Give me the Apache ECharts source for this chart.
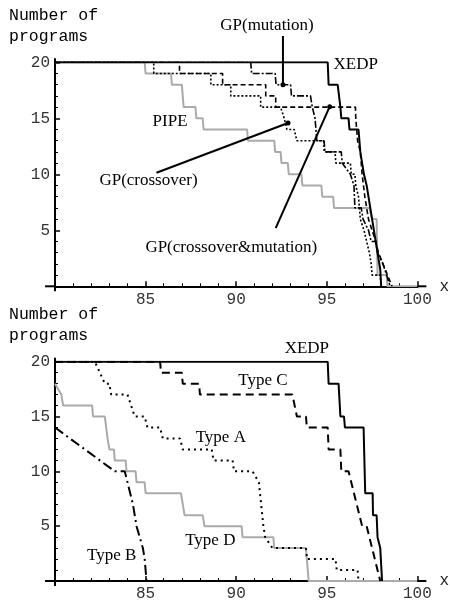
<!DOCTYPE html>
<html><head><meta charset="utf-8">
<script src="https://cdn.jsdelivr.net/npm/echarts@6/dist/echarts.min.js"></script>
<style>html,body{margin:0;padding:0;background:#fff}#c{width:450px;height:602px}</style>
</head><body><div id="c"></div><script>
// ---------- data (x = score, y = number of programs) ----------
const xTickValues = [85, 90, 95, 100];
const yTickValues = [5, 10, 15, 20];

const topXEDP = [[80,20],[95.05,20],[95.1,18],[95.6,18],[95.75,16],[95.8,15],[96.2,15],[96.25,14],[96.75,14],[96.85,12],[97.05,10],[97.2,9],[97.4,7],[97.6,5],[97.75,3.5],[97.95,1.5],[98.0,0]];
const topPIPE = [[80,20],[84.95,20],[85.0,19],[86.4,19],[86.45,18],[87.0,18],[87.1,16],[87.75,16],[87.8,15],[88.15,15],[88.2,14],[90.6,14],[90.65,13],[92.1,13],[92.15,12],[92.45,12],[92.5,11],[92.85,11],[92.9,10],[93.6,10],[93.65,9],[94.7,9],[94.75,8],[95.35,8],[95.4,7],[97.35,7],[97.5,6],[97.75,6],[97.8,1],[98.3,1],[98.35,0],[100,0]];
const topGPmutation = [[80,20],[90.8,20],[90.85,19],[92.15,19],[92.2,18],[93.0,18],[93.05,17],[94.1,17],[94.2,16],[94.35,15],[94.45,13],[94.85,13],[94.9,12],[95.8,12],[95.85,11],[96.3,10],[96.5,9],[96.55,7],[96.9,7],[97.0,6],[97.3,5],[97.45,4],[97.7,4],[97.8,3],[98.1,2],[98.3,1],[98.5,0]];
const topGPcrossover = [[80,20],[85.45,20],[85.45,19],[88.6,19],[88.6,18],[89.7,18],[89.7,17],[91.35,17],[91.35,16],[92.45,16],[92.65,15],[92.8,14],[93.2,14],[93.35,13],[94.85,13],[94.85,12],[95.45,12],[95.5,11],[96.3,11],[96.35,10],[96.55,10],[96.6,9],[96.75,8],[96.85,6],[97.05,5],[97.2,4],[97.35,3],[97.45,2],[97.5,1],[97.95,1],[98.0,0]];
const topGPcrossMut = [[80,20],[86.87,20],[86.87,19],[89.25,19],[89.25,18],[91.63,18],[91.63,17],[92.18,17],[92.18,16],[96.58,16],[96.6,15],[96.7,13],[96.85,12],[96.95,10],[97.1,8],[97.3,6],[97.5,5],[97.7,4],[97.85,3],[98.1,2],[98.35,1],[98.6,0]];

const botXEDP = [[80,20],[95.05,20],[95.1,18],[95.65,18],[95.75,15],[95.95,15],[96.0,14],[97.03,14],[97.12,8],[97.53,8],[97.55,6],[97.75,6],[97.8,4],[97.95,3],[98.05,0]];
const botTypeC = [[80,20],[85.8,20],[85.85,19],[87.0,19],[87.05,18],[87.95,18],[88.0,17],[93.1,17],[93.35,15],[93.85,15],[93.9,14],[95.05,14],[95.1,12],[95.75,12],[95.8,10],[96.2,10],[96.5,8],[96.95,5],[97.2,5],[97.5,3],[97.95,0]];
const botTypeA = [[80,20],[82.2,20],[82.75,18],[83.0,18],[83.1,17],[84.0,17],[84.4,15],[84.95,15],[85.1,14],[85.8,14],[85.95,13],[86.9,13],[87.05,12],[88.65,12],[88.75,11],[89.8,11],[89.88,10],[90.9,10],[91.25,9],[91.5,5],[91.6,4],[92.0,3],[93.85,3],[93.9,2],[95.48,2],[95.55,1],[96.7,1],[96.75,0]];
const botTypeD = [[80,18],[80.35,17],[80.45,16],[82.05,16],[82.1,15],[82.75,15],[82.9,13],[83.0,12],[83.25,12],[83.3,11],[83.9,11],[83.95,10],[84.45,10],[84.5,9],[84.95,9],[85.0,8],[86.95,8],[87.15,6],[88.15,6],[88.25,5],[90.3,5],[90.35,4],[92.05,4],[92.1,3],[93.85,3],[94.0,0],[100,0]];
const botTypeB = [[80,14],[83.3,10],[83.85,10],[84.0,9],[84.3,7],[84.5,5],[84.85,3],[84.95,2],[85.05,0]];

// ---------- annotations (data coordinates) ----------
const topLabels = [
  {text:'GP(mutation)', at:[91.7,23.3]},
  {text:'XEDP', at:[96.6,19.77]},
  {text:'PIPE', at:[86.35,14.67]},
  {text:'GP(crossover)', at:[85.16,9.4]},
  {text:'GP(crossover&mutation)', at:[89.73,3.5]}
];
const topPointers = [
  {from:[92.58,22.35], to:[92.58,18.0]},
  {from:[85.6,10.14], to:[92.86,14.58]},
  {from:[92.18,5.2], to:[95.16,16.04]}
];
const botLabels = [
  {text:'XEDP', at:[93.9,21.16]},
  {text:'Type C', at:[91.48,18.24]},
  {text:'Type A', at:[89.15,13.1]},
  {text:'Type D', at:[88.57,3.72]},
  {text:'Type B', at:[83.13,2.32]}
];

const BLACK = '#000', GRAY = '#aaaaaa';
const mono = '"Liberation Mono", "DejaVu Sans Mono", monospace';
const serif = '"Liberation Serif", "DejaVu Serif", serif';

function xAx(g){
  return {type:'value', gridIndex:g, min:80, max:100, interval:5,
    name:'x', nameLocation:'end', nameGap:22,
    nameTextStyle:{fontFamily:mono, fontSize:16, color:'#222', verticalAlign:'middle', padding:[0,0,4,0]},
    axisLine:{show:true, onZero:false, lineStyle:{color:BLACK, width:2}},
    axisTick:{show:true, inside:true, length:5, lineStyle:{color:BLACK, width:1.5}},
    minorTick:{show:true, splitNumber:5, length:3, lineStyle:{color:BLACK, width:1}},
    splitLine:{show:false}, minorSplitLine:{show:false},
    axisLabel:{fontFamily:mono, fontSize:16, color:'#333', margin:5,
      formatter:v => xTickValues.indexOf(v) >= 0 ? String(v) : ''}
  };
}
function yAx(g){
  return {type:'value', gridIndex:g, min:0, max:20, interval:5,
    axisLine:{show:true, onZero:false, lineStyle:{color:BLACK, width:2}},
    axisTick:{show:true, inside:true, length:5, lineStyle:{color:BLACK, width:1.5}},
    minorTick:{show:true, splitNumber:5, length:3, lineStyle:{color:BLACK, width:1}},
    splitLine:{show:false}, minorSplitLine:{show:false},
    axisLabel:{fontFamily:mono, fontSize:16, color:'#333', margin:5,
      formatter:v => yTickValues.indexOf(v) >= 0 ? String(v) : ''}
  };
}
function ser(data, g, color, width, type){
  return {type:'line', xAxisIndex:g, yAxisIndex:g, data:data, showSymbol:false, symbol:'none',
    animation:false, silent:true, lineStyle:{color:color, width:width, type:type}, z:(color===GRAY?2:3)};
}

const chart = echarts.init(document.getElementById('c'), null, {renderer:'canvas'});
chart.setOption({
  animation:false,
  backgroundColor:'#fff',
  grid:[{left:55, top:62.3, width:364, height:224},{left:55, top:361.7, width:364, height:224.3}],
  xAxis:[xAx(0), xAx(1)],
  yAxis:[yAx(0), yAx(1)],
  series:[
    ser(topPIPE, 0, GRAY, 2, 'solid'),
    ser(topGPcrossover, 0, BLACK, 1.6, [2,2]),
    ser(topGPcrossMut, 0, BLACK, 1.6, [5,3]),
    ser(topGPmutation, 0, BLACK, 1.6, [7,2,2,2]),
    ser(topXEDP, 0, BLACK, 2, 'solid'),
    ser(botTypeD, 1, GRAY, 2, 'solid'),
    ser(botTypeA, 1, BLACK, 2, [2,4]),
    ser(botTypeB, 1, BLACK, 2, [10,4,2,4]),
    ser(botTypeC, 1, BLACK, 2, [8,5]),
    ser(botXEDP, 1, BLACK, 2, 'solid')
  ]
});

function px(g, p){ return chart.convertToPixel({gridIndex:g}, p); }
const els = [];
function textEl(x, y, t, font, align, valign){
  els.push({type:'text', silent:true, z:10, style:{text:t, x:x, y:y, font:font, fill:'#000',
    textAlign:align, align:align, textVerticalAlign:valign, verticalAlign:valign}});
}
function lineEl(a, b, w){
  els.push({type:'line', silent:true, z:10, shape:{x1:a[0], y1:a[1], x2:b[0], y2:b[1]}, style:{stroke:'#000', lineWidth:w}});
}
[0,1].forEach(g => {
  const o = px(g, [80,0]), e = px(g, [100,20]);
  // axis overhangs
  lineEl([o[0]-10, o[1]], [o[0], o[1]], 2);
  lineEl([e[0], o[1]], [e[0]+9, o[1]], 2);
  lineEl([o[0], o[1]], [o[0], o[1]+5], 2);
  lineEl([o[0], e[1]], [o[0], e[1]-4], 2);
  // y axis title
  textEl(9, e[1]-47, 'Number of', '16.5px ' + mono, 'left', 'middle');
  textEl(9, e[1]-26, 'programs', '16.5px ' + mono, 'left', 'middle');
});
topLabels.forEach(l => { const p = px(0, l.at); textEl(p[0], p[1], l.text, '17px ' + serif, 'center', 'middle'); });
botLabels.forEach(l => { const p = px(1, l.at); textEl(p[0], p[1], l.text, '17px ' + serif, 'center', 'middle'); });
topPointers.forEach(l => {
  const a = px(0, l.from), b = px(0, l.to);
  lineEl(a, b, 2);
  els.push({type:'circle', silent:true, z:10, shape:{cx:b[0], cy:b[1], r:2.5}, style:{fill:'#000'}});
});
chart.setOption({graphic:{elements:els}});
</script></body></html>
